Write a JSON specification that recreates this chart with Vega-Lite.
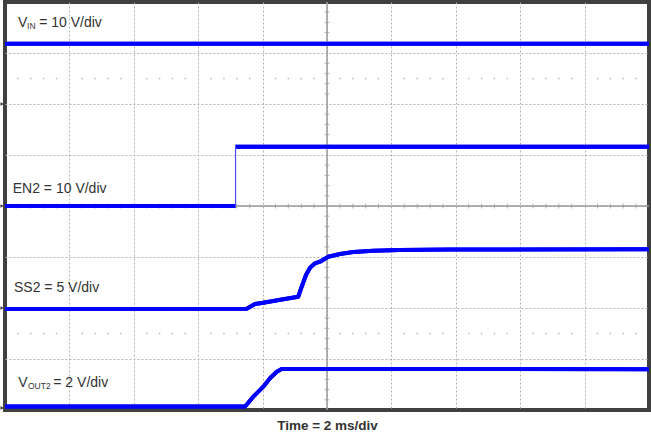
{
  "$schema": "https://vega.github.io/schema/vega-lite/v6.json",
  "width": 644,
  "height": 408,
  "autosize": {"type": "none"},
  "padding": {"left": 5, "top": 2, "right": 2, "bottom": 25},
  "background": "white",
  "config": {
    "view": {"stroke": "#404040", "strokeWidth": 4},
    "font": "Liberation Sans",
    "axis": {"labels": false, "ticks": false, "domain": false, "grid": false}
  },
  "datasets": {
    "traces": [
      {"ch": "VIN", "x": 0, "y": 7.18},
      {"ch": "VIN", "x": 10, "y": 7.18},
      {"ch": "EN2 low", "x": 0, "y": 4.0},
      {"ch": "EN2 low", "x": 3.58, "y": 4.0},
      {"ch": "EN2 high", "x": 3.58, "y": 5.16},
      {"ch": "EN2 high", "x": 10, "y": 5.16},
      {"ch": "SS2", "x": 0, "y": 1.98},
      {"ch": "SS2", "x": 3.753, "y": 1.986},
      {"ch": "SS2", "x": 3.882, "y": 2.078},
      {"ch": "SS2", "x": 4.011, "y": 2.104},
      {"ch": "SS2", "x": 4.321, "y": 2.171},
      {"ch": "SS2", "x": 4.554, "y": 2.222},
      {"ch": "SS2", "x": 4.607, "y": 2.418},
      {"ch": "SS2", "x": 4.674, "y": 2.647},
      {"ch": "SS2", "x": 4.736, "y": 2.79},
      {"ch": "SS2", "x": 4.814, "y": 2.876},
      {"ch": "SS2", "x": 4.891, "y": 2.908},
      {"ch": "SS2", "x": 5.02, "y": 3.006},
      {"ch": "SS2", "x": 5.202, "y": 3.059},
      {"ch": "SS2", "x": 5.408, "y": 3.098},
      {"ch": "SS2", "x": 5.719, "y": 3.124},
      {"ch": "SS2", "x": 6.134, "y": 3.137},
      {"ch": "SS2", "x": 6.91, "y": 3.148},
      {"ch": "SS2", "x": 10, "y": 3.15},
      {"ch": "VOUT2", "x": 0, "y": 0.07},
      {"ch": "VOUT2", "x": 3.727, "y": 0.07},
      {"ch": "VOUT2", "x": 3.856, "y": 0.261},
      {"ch": "VOUT2", "x": 4.011, "y": 0.457},
      {"ch": "VOUT2", "x": 4.115, "y": 0.622},
      {"ch": "VOUT2", "x": 4.219, "y": 0.751},
      {"ch": "VOUT2", "x": 4.297, "y": 0.804},
      {"ch": "VOUT2", "x": 10, "y": 0.8}
    ],
    "edge": [
      {"ch": "EN2 edge", "x": 3.58, "y": 4.0},
      {"ch": "EN2 edge", "x": 3.58, "y": 5.16}
    ],
    "xminor": [
      {"x": 0.2}, {"x": 0.4}, {"x": 0.6}, {"x": 0.8},
      {"x": 1.2}, {"x": 1.4}, {"x": 1.6}, {"x": 1.8},
      {"x": 2.2}, {"x": 2.4}, {"x": 2.6}, {"x": 2.8},
      {"x": 3.2}, {"x": 3.4}, {"x": 3.6}, {"x": 3.8},
      {"x": 4.2}, {"x": 4.4}, {"x": 4.6}, {"x": 4.8},
      {"x": 5.2}, {"x": 5.4}, {"x": 5.6}, {"x": 5.8},
      {"x": 6.2}, {"x": 6.4}, {"x": 6.6}, {"x": 6.8},
      {"x": 7.2}, {"x": 7.4}, {"x": 7.6}, {"x": 7.8},
      {"x": 8.2}, {"x": 8.4}, {"x": 8.6}, {"x": 8.8},
      {"x": 9.2}, {"x": 9.4}, {"x": 9.6}, {"x": 9.8}
    ],
    "yminor": [
      {"y": 0.2}, {"y": 0.4}, {"y": 0.6}, {"y": 0.8},
      {"y": 1.2}, {"y": 1.4}, {"y": 1.6}, {"y": 1.8},
      {"y": 2.2}, {"y": 2.4}, {"y": 2.6}, {"y": 2.8},
      {"y": 3.2}, {"y": 3.4}, {"y": 3.6}, {"y": 3.8},
      {"y": 4.2}, {"y": 4.4}, {"y": 4.6}, {"y": 4.8},
      {"y": 5.2}, {"y": 5.4}, {"y": 5.6}, {"y": 5.8},
      {"y": 6.2}, {"y": 6.4}, {"y": 6.6}, {"y": 6.8},
      {"y": 7.2}, {"y": 7.4}, {"y": 7.6}, {"y": 7.8}
    ],
    "ground": [
      {"ch": "VIN", "x": -0.045, "y": 6.0},
      {"ch": "EN2", "x": -0.045, "y": 4.0},
      {"ch": "SS2", "x": -0.045, "y": 2.0},
      {"ch": "VOUT2", "x": -0.045, "y": 0.04}
    ],
    "labels": [
      {"part": "main", "t": "V", "x": 0.202, "y": 7.51},
      {"part": "sub", "t": "IN", "x": 0.342, "y": 7.48},
      {"part": "main", "t": "= 10 V/div", "x": 0.53, "y": 7.51},
      {"part": "main", "t": "EN2 = 10 V/div", "x": 0.12, "y": 4.255},
      {"part": "main", "t": "SS2 = 5 V/div", "x": 0.14, "y": 2.32},
      {"part": "main", "t": "V", "x": 0.207, "y": 0.457},
      {"part": "sub", "t": "OUT2", "x": 0.357, "y": 0.41},
      {"part": "main", "t": "= 2 V/div", "x": 0.75, "y": 0.457}
    ]
  },
  "layer": [
    {
      "data": {"name": "traces"},
      "mark": {"type": "line", "color": "#0000ff", "strokeWidth": 4, "strokeCap": "butt", "strokeJoin": "round"},
      "encoding": {
        "x": {
          "field": "x", "type": "quantitative",
          "scale": {"domain": [0, 10], "nice": false, "zero": false},
          "axis": {
            "title": "Time = 2 ms/div",
            "values": [1, 2, 3, 4, 5, 6, 7, 8, 9],
            "grid": true, "gridColor": "#b4b4b4", "gridDash": [2, 2], "gridWidth": 1,
            "titleFont": "Liberation Sans", "titleFontSize": 13.5, "titleFontWeight": "bold",
            "titleColor": "#333333", "titlePadding": 8
          }
        },
        "y": {
          "field": "y", "type": "quantitative",
          "scale": {"domain": [0, 8], "nice": false, "zero": false},
          "axis": {
            "title": null,
            "values": [1, 2, 3, 4, 5, 6, 7],
            "grid": true, "gridColor": "#b4b4b4", "gridDash": [2, 2], "gridWidth": 1
          }
        },
        "detail": {"field": "ch"}
      }
    },
    {
      "data": {"values": [{"x": 5}]},
      "mark": {"type": "rule", "color": "#9a9a9a", "strokeWidth": 1.5},
      "encoding": {"x": {"field": "x", "type": "quantitative"}}
    },
    {
      "data": {"values": [{"y": 4}]},
      "mark": {"type": "rule", "color": "#9a9a9a", "strokeWidth": 1.5},
      "encoding": {"y": {"field": "y", "type": "quantitative"}}
    },
    {
      "data": {"name": "xminor"},
      "mark": {"type": "tick", "orient": "vertical", "size": 5, "thickness": 1, "color": "#9a9a9a"},
      "encoding": {"x": {"field": "x", "type": "quantitative"}, "y": {"datum": 4}}
    },
    {
      "data": {"name": "yminor"},
      "mark": {"type": "tick", "orient": "horizontal", "size": 5, "thickness": 1, "color": "#9a9a9a"},
      "encoding": {"y": {"field": "y", "type": "quantitative"}, "x": {"datum": 5}}
    },
    {
      "data": {"name": "xminor"},
      "mark": {"type": "square", "size": 2, "color": "#b4b4b4", "opacity": 1},
      "encoding": {"x": {"field": "x", "type": "quantitative"}, "y": {"datum": 6.5}}
    },
    {
      "data": {"name": "xminor"},
      "mark": {"type": "square", "size": 2, "color": "#b4b4b4", "opacity": 1},
      "encoding": {"x": {"field": "x", "type": "quantitative"}, "y": {"datum": 1.5}}
    },
    {
      "data": {"name": "traces"},
      "mark": {"type": "line", "color": "#0000ff", "strokeWidth": 4, "strokeCap": "butt", "strokeJoin": "round"},
      "encoding": {
        "x": {"field": "x", "type": "quantitative"},
        "y": {"field": "y", "type": "quantitative"},
        "detail": {"field": "ch"}
      }
    },
    {
      "data": {"name": "edge"},
      "mark": {"type": "line", "color": "#4a4aff", "strokeWidth": 1.2},
      "encoding": {
        "x": {"field": "x", "type": "quantitative"},
        "y": {"field": "y", "type": "quantitative"},
        "detail": {"field": "ch"}
      }
    },
    {
      "data": {"name": "ground"},
      "mark": {"type": "point", "shape": "triangle-right", "filled": true, "size": 14, "color": "#333333", "opacity": 1},
      "encoding": {
        "x": {"field": "x", "type": "quantitative"},
        "y": {"field": "y", "type": "quantitative"}
      }
    },
    {
      "data": {"name": "labels"},
      "transform": [{"filter": "datum.part === 'main'"}],
      "mark": {"type": "text", "align": "left", "baseline": "alphabetic", "fontSize": 14, "color": "#333333", "font": "Liberation Sans"},
      "encoding": {
        "x": {"field": "x", "type": "quantitative"},
        "y": {"field": "y", "type": "quantitative"},
        "text": {"field": "t"}
      }
    },
    {
      "data": {"name": "labels"},
      "transform": [{"filter": "datum.part === 'sub'"}],
      "mark": {"type": "text", "align": "left", "baseline": "alphabetic", "fontSize": 8.5, "color": "#333333", "font": "Liberation Sans"},
      "encoding": {
        "x": {"field": "x", "type": "quantitative"},
        "y": {"field": "y", "type": "quantitative"},
        "text": {"field": "t"}
      }
    }
  ]
}
